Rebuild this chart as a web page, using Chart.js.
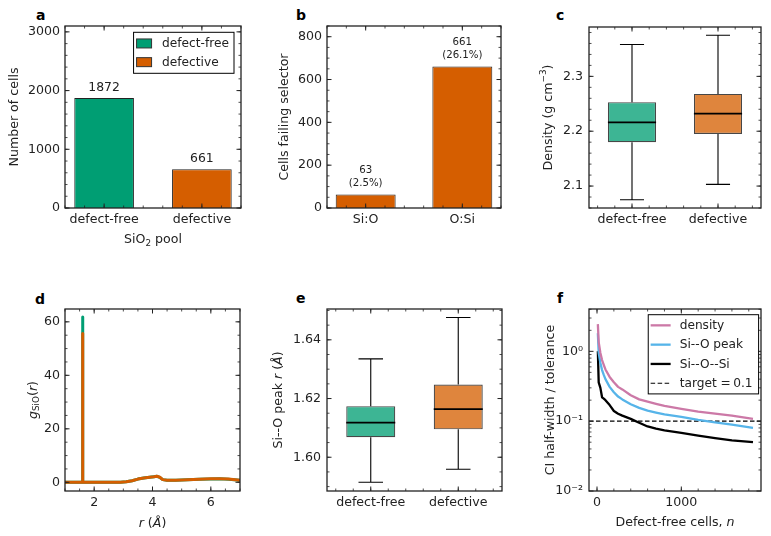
<!DOCTYPE html>
<html>
<head>
<meta charset="utf-8">
<script src="https://cdn.jsdelivr.net/npm/chart.js@4.4.1/dist/chart.umd.min.js"></script>
<style>
    html, body { margin: 0; padding: 0; background: #fff; }
    body { width: 771px; height: 536px; position: relative; overflow: hidden; }
    .panel { position: absolute; }
    .letter { position: absolute; font: bold 14px 'DejaVu Sans', sans-serif; line-height: 14px; color: #000; }
</style>
</head>
<body>
<div class="letter" style="left:36px;top:7.5px">a</div>
<div class="letter" style="left:296px;top:7.5px">b</div>
<div class="letter" style="left:556px;top:7.5px">c</div>
<div class="letter" style="left:35px;top:291.5px">d</div>
<div class="letter" style="left:296px;top:291px">e</div>
<div class="letter" style="left:557px;top:291px">f</div>
<script>
const FONT = "'DejaVu Sans', sans-serif";
const SIZE = 12.6;
const INK = '#222';
const GREEN = '#009E73';
const ORANGE = '#D55E00';
const GREEN_BOX = 'rgba(0, 158, 115, 0.76)';
const ORANGE_BOX = 'rgba(213, 94, 0, 0.76)';
const PINK = '#CC79A7';
const SKY = '#56B4E9';

// a: pool sizes
const poolLabels = ['defect-free', 'defective'];
const poolCounts = [1872, 661];
const poolTicks = [0, 1000, 2000, 3000];

// b: cells failing each selector
const selectorLabels = ['Si:O', 'O:Si'];
const selectorCounts = [63, 661];
const selectorShares = ['2.5%', '26.1%'];
const selectorTicks = [0, 200, 400, 600, 800];

// c: density box plots (whisker low, q1, median, q3, whisker high)
const densityLow = [2.075, 2.103];
const densityQ1 = [2.180, 2.195];
const densityMedian = [2.216, 2.232];
const densityQ3 = [2.253, 2.268];
const densityHigh = [2.358, 2.375];
const densityTicks = [2.1, 2.2, 2.3];

// d: Si-O pair distribution
const rdfR = [1.0, 1.45, 1.585, 1.60, 1.615, 1.75, 2.0, 2.5, 2.9, 3.1, 3.3, 3.5, 3.7, 3.9, 4.05, 4.15, 4.25, 4.35, 4.5, 4.8, 5.2, 5.6, 6.0, 6.3, 6.6, 7.0];
const rdfDefectFree = [0, 0, 0, 61.8, 0, 0, 0, 0, 0.05, 0.2, 0.6, 1.2, 1.6, 1.9, 2.1, 2.25, 1.85, 1.0, 0.75, 0.8, 0.95, 1.1, 1.25, 1.3, 1.15, 0.8];
const rdfDefective = [0, 0, 0, 55.6, 0, 0, 0, 0, 0.05, 0.2, 0.6, 1.2, 1.6, 1.9, 2.1, 2.3, 1.9, 1.0, 0.75, 0.8, 0.95, 1.1, 1.3, 1.35, 1.2, 0.8];
const rdfXTicks = [2, 4, 6];
const rdfYTicks = [0, 20, 40, 60];

// e: Si-O peak position box plots
const peakLow = [1.5915, 1.5959];
const peakQ1 = [1.6068, 1.6095];
const peakMedian = [1.6118, 1.6164];
const peakQ3 = [1.6174, 1.6248];
const peakHigh = [1.6335, 1.6476];
const peakTicks = [1.60, 1.62, 1.64];

// f: convergence of CI half-width
const cellsN = [10, 20, 40, 60, 80, 100, 150, 200, 250, 300, 400, 500, 600, 700, 800, 1000, 1200, 1400, 1600, 1850];
const ciDensity = [2.45, 1.35, 0.95, 0.75, 0.64, 0.55, 0.43, 0.36, 0.31, 0.285, 0.235, 0.205, 0.19, 0.177, 0.165, 0.150, 0.137, 0.128, 0.12, 0.108];
const ciPeak = [1.82, 0.95, 0.68, 0.54, 0.46, 0.40, 0.31, 0.26, 0.225, 0.205, 0.175, 0.155, 0.142, 0.133, 0.125, 0.115, 0.104, 0.096, 0.089, 0.080];
const ciAngle = [1.0, 0.36, 0.30, 0.22, 0.21, 0.20, 0.17, 0.14, 0.128, 0.12, 0.108, 0.095, 0.084, 0.078, 0.074, 0.068, 0.062, 0.057, 0.053, 0.050];
const ciSeries = ['density', 'Si--O peak', 'Si--O--Si'];
const ciTarget = 0.1;
const ciXRange = [-95, 1945];
const ciXTicks = [0, 1000];
const ciYTicks = [0.01, 0.1, 1];
const ciYLabels = ['10⁻²', '10⁻¹', '10⁰'];

const PAD_L = 62, PAD_T = 22, PAD_R = 8, PAD_B = 42;

// legend specs kept outside the chart options so the option resolver leaves them alone
const legendSpecs = new Map();

function minorValues(scale, step) {
    const out = [];
    if (!step) {
        return out;
    }
    if (step === 'log') {
        const lo = Math.floor(Math.log10(scale.min));
        const hi = Math.ceil(Math.log10(scale.max));
        for (let k = lo; k <= hi; k++) {
            for (let m = 2; m <= 9; m++) {
                const v = m * Math.pow(10, k);
                if (v > scale.min && v < scale.max) out.push(v);
            }
        }
        return out;
    }
    const first = Math.ceil(scale.min / step - 1e-9);
    for (let i = first; i * step <= scale.max + 1e-9; i++) {
        out.push(i * step);
    }
    return out;
}

// inward ticks on all four sides plus the axes frame
const framePlugin = {
    id: 'frame',
    afterDatasetsDraw(chart, args, opts) {
        const { ctx, chartArea: { left, top, right, bottom }, scales: { x, y } } = chart;
        ctx.save();
        ctx.strokeStyle = INK;
        const mark = (scale, values, len, width) => {
            ctx.lineWidth = width;
            ctx.beginPath();
            for (const v of values) {
                const p = scale.getPixelForValue(v);
                if (scale.isHorizontal()) {
                    if (p < left - 0.5 || p > right + 0.5) continue;
                    ctx.moveTo(p, bottom); ctx.lineTo(p, bottom - len);
                    ctx.moveTo(p, top); ctx.lineTo(p, top + len);
                } else {
                    if (p < top - 0.5 || p > bottom + 0.5) continue;
                    ctx.moveTo(left, p); ctx.lineTo(left + len, p);
                    ctx.moveTo(right, p); ctx.lineTo(right - len, p);
                }
            }
            ctx.stroke();
        };
        mark(x, x.ticks.map((t) => t.value), 4.5, 1);
        mark(y, y.ticks.map((t) => t.value), 4.5, 1);
        mark(x, minorValues(x, opts.xMinor), 2.5, 0.8);
        mark(y, minorValues(y, opts.yMinor), 2.5, 0.8);
        ctx.lineWidth = 1.3;
        ctx.strokeRect(left, top, right - left, bottom - top);
        ctx.restore();
    }
};

// whiskers, caps and medians on top of floating-bar boxes
const boxPlugin = {
    id: 'boxParts',
    afterDatasetsDraw(chart, args, opts) {
        if (!opts.median) return;
        const { ctx, scales: { x, y } } = chart;
        const boxes = chart.getDatasetMeta(0).data;
        ctx.save();
        ctx.strokeStyle = '#000';
        opts.median.forEach((m, i) => {
            const cx = x.getPixelForValue(i);
            const capL = x.getPixelForValue(i - opts.cap / 2);
            const capR = x.getPixelForValue(i + opts.cap / 2);
            const hi = y.getPixelForValue(opts.high[i]);
            const lo = y.getPixelForValue(opts.low[i]);
            ctx.lineWidth = 1.1;
            ctx.beginPath();
            ctx.moveTo(cx, y.getPixelForValue(opts.q3[i])); ctx.lineTo(cx, hi);
            ctx.moveTo(cx, y.getPixelForValue(opts.q1[i])); ctx.lineTo(cx, lo);
            ctx.moveTo(capL, hi); ctx.lineTo(capR, hi);
            ctx.moveTo(capL, lo); ctx.lineTo(capR, lo);
            ctx.stroke();
            const box = boxes[i];
            const my = y.getPixelForValue(m);
            ctx.lineWidth = 1.7;
            ctx.beginPath();
            ctx.moveTo(box.x - box.width / 2, my); ctx.lineTo(box.x + box.width / 2, my);
            ctx.stroke();
        });
        ctx.restore();
    }
};

const barLabelPlugin = {
    id: 'barLabels',
    afterDatasetsDraw(chart, args, opts) {
        if (!opts.lines) return;
        const { ctx } = chart;
        const bars = chart.getDatasetMeta(0).data;
        ctx.save();
        ctx.fillStyle = INK;
        ctx.font = `${opts.size}px ${FONT}`;
        ctx.textAlign = 'center';
        ctx.textBaseline = 'middle';
        opts.lines.forEach((lines, i) => {
            const bar = bars[i];
            lines.slice().reverse().forEach((t, k) => {
                ctx.fillText(t, bar.x, bar.y - opts.gap - k * opts.lineHeight);
            });
        });
        ctx.restore();
    }
};

function drawRich(ctx, segs, size) {
    const parts = [];
    let total = 0;
    for (const s of segs) {
        const small = s.sub || s.sup;
        const font = `${s.it ? 'italic ' : ''}${small ? size * 0.7 : size}px ${FONT}`;
        ctx.font = font;
        const w = ctx.measureText(s.t).width;
        parts.push({ t: s.t, font, w, dy: s.sub ? size * 0.2 : s.sup ? -size * 0.4 : 0 });
        total += w;
    }
    let cx = -total / 2;
    const base = size * 0.36;
    ctx.textAlign = 'left';
    ctx.textBaseline = 'alphabetic';
    for (const p of parts) {
        ctx.font = p.font;
        ctx.fillText(p.t, cx, base + p.dy);
        cx += p.w;
    }
}

const titlePlugin = {
    id: 'axisTitles',
    afterDraw(chart, args, opts) {
        const { ctx, chartArea: { left, right, top, bottom } } = chart;
        ctx.save();
        ctx.fillStyle = INK;
        if (opts.x) {
            ctx.save();
            ctx.translate((left + right) / 2, bottom + opts.xOffset);
            drawRich(ctx, opts.x, SIZE);
            ctx.restore();
        }
        if (opts.y) {
            ctx.save();
            ctx.translate(left - opts.yOffset, (top + bottom) / 2);
            ctx.rotate(-Math.PI / 2);
            drawRich(ctx, opts.y, SIZE);
            ctx.restore();
        }
        ctx.restore();
    }
};

const legendPlugin = {
    id: 'frameLegend',
    afterDraw(chart) {
        const spec = legendSpecs.get(chart.canvas);
        if (!spec) return;
        const { items } = spec;
        const { ctx, chartArea } = chart;
        ctx.save();
        ctx.font = `${spec.size}px ${FONT}`;
        const textW = Math.max(...items.map((it) => ctx.measureText(it.label).width));
        const w = spec.padLeft + spec.handle + spec.gap + textW + spec.padRight;
        const h = spec.padTop * 2 + spec.rowHeight * items.length;
        const x0 = chartArea.right - spec.insetRight - w;
        const y0 = chartArea.top + spec.insetTop;
        ctx.fillStyle = '#fff';
        ctx.fillRect(x0, y0, w, h);
        ctx.strokeStyle = '#000';
        ctx.lineWidth = 1;
        ctx.strokeRect(x0, y0, w, h);
        items.forEach((it, i) => {
            const cy = y0 + spec.padTop + spec.rowHeight * (i + 0.5);
            const hx = x0 + spec.padLeft;
            if (it.patch) {
                ctx.fillStyle = it.patch;
                ctx.fillRect(hx, cy - 4.5, spec.handle, 9);
                ctx.strokeStyle = '#333';
                ctx.lineWidth = 1;
                ctx.strokeRect(hx, cy - 4.5, spec.handle, 9);
            } else {
                ctx.strokeStyle = it.color;
                ctx.lineWidth = it.width;
                ctx.setLineDash(it.dash || []);
                ctx.beginPath();
                ctx.moveTo(hx, cy); ctx.lineTo(hx + spec.handle, cy);
                ctx.stroke();
                ctx.setLineDash([]);
            }
            ctx.fillStyle = INK;
            ctx.font = `${spec.size}px ${FONT}`;
            ctx.textAlign = 'left';
            ctx.textBaseline = 'middle';
            ctx.fillText(it.label, hx + spec.handle + spec.gap, cy + 0.5);
        });
        ctx.restore();
    }
};

Chart.register(boxPlugin, barLabelPlugin, framePlugin, titlePlugin, legendPlugin);

function axis(type, min, max, ticks, format, isX, pad) {
    return {
        type, min, max, offset: false,
        grid: { display: false, drawTicks: false },
        border: { display: false },
        ticks: {
            color: INK,
            font: { family: FONT, size: SIZE },
            padding: pad,
            autoSkip: false,
            maxRotation: 0,
            minRotation: 0,
            includeBounds: false,
            callback: format
        },
        afterBuildTicks: (scale) => { scale.ticks = ticks.map((value) => ({ value })); },
        afterFit: isX ? (s) => { s.height = PAD_B; } : (s) => { s.width = PAD_L; }
    };
}

function makePanel(area, config, legend) {
    const [L, T, R, B] = area;
    const width = R - L + PAD_L + PAD_R;
    const height = B - T + PAD_T + PAD_B;
    const box = document.createElement('div');
    box.className = 'panel';
    box.style.left = `${L - PAD_L}px`;
    box.style.top = `${T - PAD_T}px`;
    const canvas = document.createElement('canvas');
    canvas.width = width;
    canvas.height = height;
    canvas.style.width = `${width}px`;
    canvas.style.height = `${height}px`;
    box.append(canvas);
    document.body.append(box);
    if (legend) {
        legendSpecs.set(canvas, legend);
    }
    config.options = Object.assign({
        responsive: false,
        animation: false,
        events: [],
        layout: { padding: { left: 0, top: PAD_T, right: PAD_R, bottom: 0 } }
    }, config.options);
    config.options.plugins = Object.assign({ legend: { display: false }, tooltip: { enabled: false } }, config.options.plugins);
    return new Chart(canvas, config);
}

const intLabel = (v) => String(v);

// a
makePanel([65, 26, 241, 208], {
    type: 'bar',
    data: {
        datasets: [{
            data: poolCounts.map((y, x) => ({ x, y })),
            backgroundColor: [GREEN, ORANGE],
            borderColor: '#222',
            borderWidth: 1,
            barPercentage: 0.61,
            categoryPercentage: 1
        }]
    },
    options: {
        scales: {
            x: axis('linear', -0.4, 1.4, [0, 1], (v) => poolLabels[v], true, 4),
            y: axis('linear', 0, 3100, poolTicks, intLabel, false, 5)
        },
        plugins: {
            frame: { xMinor: 0.2, yMinor: 200 },
            barLabels: { lines: poolCounts.map((c) => [String(c)]), size: 12.4, gap: 10.5, lineHeight: 13 },
            axisTitles: { x: [{ t: 'SiO' }, { t: '2', sub: true }, { t: ' pool' }], xOffset: 30.5, y: [{ t: 'Number of cells' }], yOffset: 52 }
        }
    }
}, {
    items: poolLabels.map((label, i) => ({ label, patch: [GREEN, ORANGE][i] })),
    size: 12.2, padLeft: 3, handle: 15, gap: 10.5, padRight: 5, padTop: 1.8, rowHeight: 18.7, insetRight: 7, insetTop: 6.3
});

// b
makePanel([327, 26, 501, 208], {
    type: 'bar',
    data: {
        datasets: [{
            data: selectorCounts.map((y, x) => ({ x, y })),
            backgroundColor: ORANGE,
            borderColor: '#222',
            borderWidth: 1,
            barPercentage: 0.62,
            categoryPercentage: 1
        }]
    },
    options: {
        scales: {
            x: axis('linear', -0.4, 1.4, [0, 1], (v) => selectorLabels[v], true, 4),
            y: axis('linear', 0, 850, selectorTicks, intLabel, false, 5)
        },
        plugins: {
            frame: { xMinor: 0.2, yMinor: 50 },
            barLabels: { lines: selectorCounts.map((c, i) => [String(c), `(${selectorShares[i]})`]), size: 10.2, gap: 11.5, lineHeight: 12.7 },
            axisTitles: { y: [{ t: 'Cells failing selector' }], yOffset: 44 }
        }
    }
});

function boxPanel(area, q1, q3, low, median, high, yMin, yMax, yTicks, yFormat, yMinor, title, yOffset) {
    return makePanel(area, {
        type: 'bar',
        data: {
            datasets: [{
                data: q1.map((v, x) => ({ x, y: [v, q3[x]] })),
                backgroundColor: [GREEN_BOX, ORANGE_BOX],
                borderColor: 'rgba(0, 0, 0, 0.72)',
                borderWidth: 1.2,
                borderSkipped: false,
                barPercentage: 0.56,
                categoryPercentage: 1
            }]
        },
        options: {
            scales: {
                x: axis('linear', -0.5, 1.5, [0, 1], (v) => poolLabels[v], true, 4),
                y: axis('linear', yMin, yMax, yTicks, yFormat, false, 6)
            },
            plugins: {
                frame: { xMinor: 0.2, yMinor },
                boxParts: { low, q1, median, q3, high, cap: 0.28 },
                axisTitles: { y: title, yOffset }
            }
        }
    });
}

// c
boxPanel([589, 27, 761, 208], densityQ1, densityQ3, densityLow, densityMedian, densityHigh,
    2.06, 2.39, densityTicks, (v) => v.toFixed(1), 0.02,
    [{ t: 'Density (g cm' }, { t: '−3', sup: true }, { t: ')' }], 42);

// d
makePanel([65, 309, 240, 491], {
    type: 'scatter',
    data: {
        datasets: [
            { data: rdfR.map((x, i) => ({ x, y: rdfDefectFree[i] })), borderColor: GREEN, order: 2 },
            { data: rdfR.map((x, i) => ({ x, y: rdfDefective[i] })), borderColor: ORANGE, order: 1 }
        ].map((d) => Object.assign(d, { showLine: true, pointRadius: 0, borderWidth: 3, borderJoinStyle: 'round', borderCapStyle: 'round', tension: 0 }))
    },
    options: {
        scales: {
            x: axis('linear', 1, 7, rdfXTicks, intLabel, true, 4),
            y: axis('linear', -3.25, 64.8, rdfYTicks, intLabel, false, 5)
        },
        plugins: {
            frame: { xMinor: 0.5, yMinor: 5 },
            axisTitles: {
                x: [{ t: 'r', it: true }, { t: ' (' }, { t: 'Å', it: true }, { t: ')' }], xOffset: 31.5,
                y: [{ t: 'g', it: true }, { t: 'SiO', sub: true }, { t: '(' }, { t: 'r', it: true }, { t: ')' }], yOffset: 33
            }
        }
    }
});

// e
boxPanel([327, 309, 502, 491], peakQ1, peakQ3, peakLow, peakMedian, peakHigh,
    1.5885, 1.6505, peakTicks, (v) => v.toFixed(2), 0.005,
    [{ t: 'Si--O peak ' }, { t: 'r', it: true }, { t: ' (' }, { t: 'Å', it: true }, { t: ')' }], 50);

// f
const ciColors = [PINK, SKY, '#000'];
makePanel([589, 309, 761, 491], {
    type: 'scatter',
    data: {
        datasets: [ciDensity, ciPeak, ciAngle].map((values, k) => ({
            label: ciSeries[k],
            data: cellsN.map((x, i) => ({ x, y: values[i] })),
            borderColor: ciColors[k],
            borderWidth: 2.3
        })).concat([{
            label: 'target',
            data: ciXRange.map((x) => ({ x, y: ciTarget })),
            borderColor: '#000',
            borderWidth: 1.2,
            borderDash: [4.5, 2.5]
        }]).map((d) => Object.assign(d, { showLine: true, pointRadius: 0, tension: 0, borderJoinStyle: 'round' }))
    },
    options: {
        scales: {
            x: axis('linear', ciXRange[0], ciXRange[1], ciXTicks, intLabel, true, 4),
            y: axis('logarithmic', 0.01, 4.04, ciYTicks, (v, i) => ciYLabels[i], false, 6)
        },
        plugins: {
            frame: { xMinor: 200, yMinor: 'log' },
            axisTitles: {
                x: [{ t: 'Defect-free cells, ' }, { t: 'n', it: true }], xOffset: 30.5,
                y: [{ t: 'CI half-width / tolerance' }], yOffset: 40
            }
        }
    }
}, {
    items: ciSeries.map((label, k) => ({ label, color: ciColors[k], width: 2.3 }))
        .concat([{ label: `target =\u2009${ciTarget}`, color: '#000', width: 1.2, dash: [4.5, 2.5] }]),
    size: 12.2, padLeft: 2.4, handle: 20, gap: 9, padRight: 6, padTop: 1, rowHeight: 19.3, insetRight: 2.4, insetTop: 5.7
});
</script>
</body>
</html>
